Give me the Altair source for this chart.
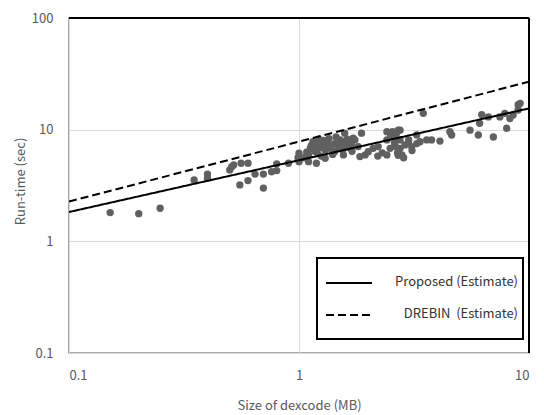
import altair as alt
import pandas as pd

# --- data ---
size_mb = [0.151, 0.201, 0.249, 0.35, 0.40, 0.40, 0.50, 0.51, 0.52, 0.553, 0.56, 0.60, 0.60,
           0.644, 0.70, 0.70, 0.76, 0.80, 0.80, 0.90, 1.0, 1.0, 1.1, 0.99, 1.1, 1.12, 1.15,
           1.19, 1.21, 1.25, 1.30, 1.30, 1.36, 1.43, 1.43, 1.51, 1.56, 1.58, 1.64, 1.69, 1.75,
           1.81, 1.84, 1.87, 1.94, 2.0, 2.1, 2.21, 2.41, 2.41, 2.41, 2.49, 2.7, 2.75, 2.75,
           2.8, 2.89, 2.99, 3.09, 3.25, 3.36, 3.47, 3.59, 3.77, 4.1, 4.53, 4.61, 5.54, 6.02,
           6.1, 6.23, 6.66, 7.0, 7.47, 7.85, 8.0, 8.26, 8.53, 8.97, 9.15, 8.97, 2.75, 3.0,
           3.25, 1.2, 1.25, 1.33, 1.4, 1.48, 1.55, 1.6, 1.7, 1.72, 1.2, 1.17, 1.28, 1.35,
           2.2, 2.3, 2.6, 2.65, 2.85, 3.1, 1.05, 1.08,
           1.13, 1.18, 1.22, 1.27, 1.32, 1.38, 1.45, 1.5, 1.53, 1.62, 1.66, 2.5, 2.55, 2.58,
           2.62, 2.68, 2.7]
runtime_s = [1.81, 1.77, 1.98, 3.55, 4.0, 3.67, 4.36, 4.66, 4.83, 3.2, 5.0, 3.5, 5.0,
             4.0, 4.0, 3.0, 4.2, 4.3, 4.94, 5.0, 6.15, 5.17, 5.17, 5.6, 5.94, 6.8, 7.8,
             5.0, 6.8, 7.5, 5.55, 6.6, 6.8, 7.5, 6.35, 8.1, 5.94, 9.3, 7.8, 7.3, 8.1,
             7.05, 5.74, 9.3, 5.94, 6.35, 6.8, 7.05, 9.6, 8.1, 5.94, 6.8, 9.9, 8.1, 6.8,
             5.94, 7.3, 7.5, 7.05, 8.95, 7.8, 14.0, 8.1, 8.1, 7.9, 9.6, 8.95, 9.9, 8.95,
             11.4, 13.6, 13.0, 8.6, 13.0, 14.0, 10.3, 12.6, 13.5, 15.0, 17.2, 16.7, 9.9, 8.1,
             7.5, 6.2, 5.8, 7.0, 6.0, 7.0, 6.6, 7.4, 6.4, 8.4, 7.2, 6.4, 8.0, 8.3,
             5.8, 6.2, 7.6, 9.2, 5.6, 6.5, 5.6, 6.3,
             7.2, 7.6, 8.2, 6.9, 7.7, 7.2, 8.6, 6.9, 7.8, 8.2, 6.9, 9.0, 9.6, 8.6,
             7.1, 6.2, 5.9]

line_x = [0.1, 10]
proposed_y = [1.83, 15.5]
drebin_y = [2.27, 26.9]
legend_labels = ["Proposed (Estimate)", "DREBIN\u00a0 (Estimate)"]

x_ticks = [0.1, 1, 10]
y_ticks = [0.1, 1, 10, 100]

W, H = 460, 335
FONT = "Noto Sans CJK KR"
TXT = "#595959"

pts = pd.DataFrame({"x": size_mb, "y": runtime_s})
lines = pd.DataFrame({
    "x": line_x + line_x,
    "y": proposed_y + drebin_y,
    "series": [legend_labels[0]] * 2 + [legend_labels[1]] * 2,
})

xscale = alt.Scale(type="log", domain=[0.1, 10], nice=False)
yscale = alt.Scale(type="log", domain=[0.1, 100], nice=False)

xaxis = alt.Axis(values=x_ticks, format="~g", title="Size of dexcode (MB)", ticks=False,
                 labelPadding=16, grid=True, gridColor="#d9d9d9", domain=False,
                 titleY=52, titleBaseline="middle",
                 labelFont=FONT, titleFont=FONT, labelFontSize=13, titleFontSize=13,
                 labelColor=TXT, titleColor=TXT, titleFontWeight="normal")
yaxis = alt.Axis(values=y_ticks, format="~g", title="Run-time (sec)", ticks=False,
                 labelPadding=16, grid=True, gridColor="#d9d9d9", domain=False,
                 titleX=-42, titleY=163,
                 labelFont=FONT, titleFont=FONT, labelFontSize=13, titleFontSize=13,
                 labelColor=TXT, titleColor=TXT, titleFontWeight="normal")

points = alt.Chart(pts).mark_circle(size=54, color="#606060", opacity=1).encode(
    x=alt.X("x:Q", scale=xscale, axis=xaxis),
    y=alt.Y("y:Q", scale=yscale, axis=yaxis),
)

fit = alt.Chart(lines).mark_line(color="black", strokeWidth=2, clip=True).encode(
    x=alt.X("x:Q", scale=xscale),
    y=alt.Y("y:Q", scale=yscale),
    detail="series:N",
    strokeDash=alt.StrokeDash("series:N", scale=alt.Scale(domain=legend_labels,
                                                           range=[[1, 0], [8, 4]]), legend=None),
)

one = pd.DataFrame({"k": [0]})
frame_top = alt.Chart(one).mark_rule(color="black", strokeWidth=2).encode(
    x=alt.value(0), x2=alt.value(W), y=alt.value(0))
frame_right = alt.Chart(one).mark_rule(color="black", strokeWidth=2).encode(
    x=alt.value(W), y=alt.value(0), y2=alt.value(H))

LX0, LX1, LY0, LY1 = 248, 454, 240, 321
leg_box = alt.Chart(one).mark_rect(fill="white", stroke="black", strokeWidth=2).encode(
    x=alt.value(LX0), x2=alt.value(LX1), y=alt.value(LY0), y2=alt.value(LY1))
leg_solid = alt.Chart(one).mark_rule(color="black", strokeWidth=2).encode(
    x=alt.value(257), x2=alt.value(303), y=alt.value(265))
leg_dash = alt.Chart(one).mark_rule(color="black", strokeWidth=2, strokeDash=[8, 4]).encode(
    x=alt.value(257), x2=alt.value(303), y=alt.value(297))
leg_t1 = alt.Chart(one).mark_text(text=legend_labels[0], align="right", baseline="middle",
                                   font=FONT, fontSize=13, color="#333333").encode(
    x=alt.value(449), y=alt.value(264))
leg_t2 = alt.Chart(one).mark_text(text=legend_labels[1], align="right", baseline="middle",
                                   font=FONT, fontSize=13, color="#333333").encode(
    x=alt.value(449), y=alt.value(296))

chart = alt.layer(points, fit, frame_top, frame_right,
                  leg_box, leg_solid, leg_dash, leg_t1, leg_t2).properties(
    width=W, height=H,
    background="white",
    autosize=alt.AutoSizeParams(type="none"),
    padding={"left": 61, "top": 10, "right": 7, "bottom": 62},
).configure_view(stroke="#8c8c8c", strokeWidth=1.5)

chart.save("out.html", embed_options={"renderer": "svg", "actions": False})
